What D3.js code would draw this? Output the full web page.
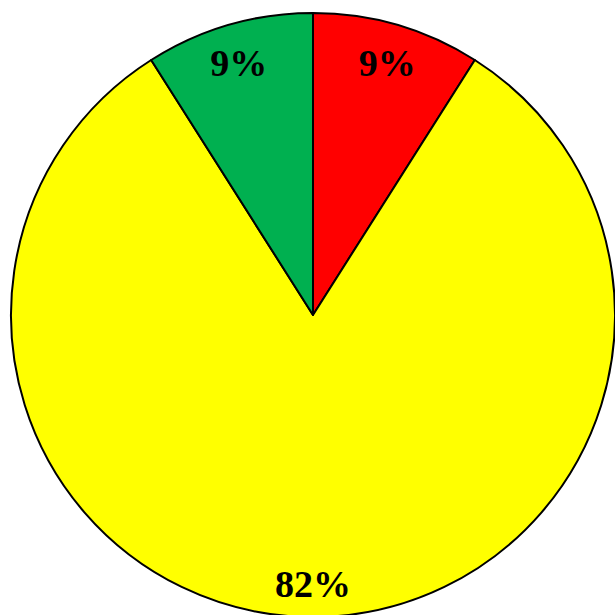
<!DOCTYPE html>
<html>
<head>
<meta charset="utf-8">
<script src="https://cdn.jsdelivr.net/npm/d3@7"></script>
<style>
  html, body { margin: 0; padding: 0; background: #fff; overflow: hidden; }
</style>
</head>
<body>
<div id="chart"></div>
<script>
// 数据
const labels = ["9%", "82%", "9%"];
const values = [9, 82, 9];
const colors = ["#ff0000", "#ffff00", "#00b050"];

function drawPie() {
    const width = 615;
    const height = 615;
    const cx = 313;
    const cy = 315;
    const radius = 302;

    d3.select("#chart").selectAll("*").remove();

    const svg = d3.select("#chart")
        .append("svg")
        .attr("width", width)
        .attr("height", height);

    const g = svg.append("g")
        .attr("transform", `translate(${cx},${cy})`);

    const pie = d3.pie()
        .sort(null)
        .value(d => d);

    const arcs = pie(values);

    const arc = d3.arc()
        .innerRadius(0)
        .outerRadius(radius);

    const labelArc = d3.arc()
        .innerRadius(266)
        .outerRadius(266);

    // 扇区
    g.selectAll("path")
        .data(arcs)
        .enter()
        .append("path")
        .attr("d", arc)
        .attr("fill", (d, i) => colors[i])
        .attr("stroke", "#000")
        .attr("stroke-width", 2)
        .attr("stroke-linejoin", "round");

    // 百分比标签
    g.selectAll("text")
        .data(arcs)
        .enter()
        .append("text")
        .attr("transform", d => `translate(${labelArc.centroid(d)})`)
        .attr("text-anchor", "middle")
        .attr("dy", "0.42em")
        .attr("font-family", "'Liberation Serif', 'Times New Roman', serif")
        .attr("font-weight", "bold")
        .attr("font-size", "38px")
        .attr("fill", "#000")
        .text((d, i) => labels[i]);
}

drawPie();
</script>
</body>
</html>
